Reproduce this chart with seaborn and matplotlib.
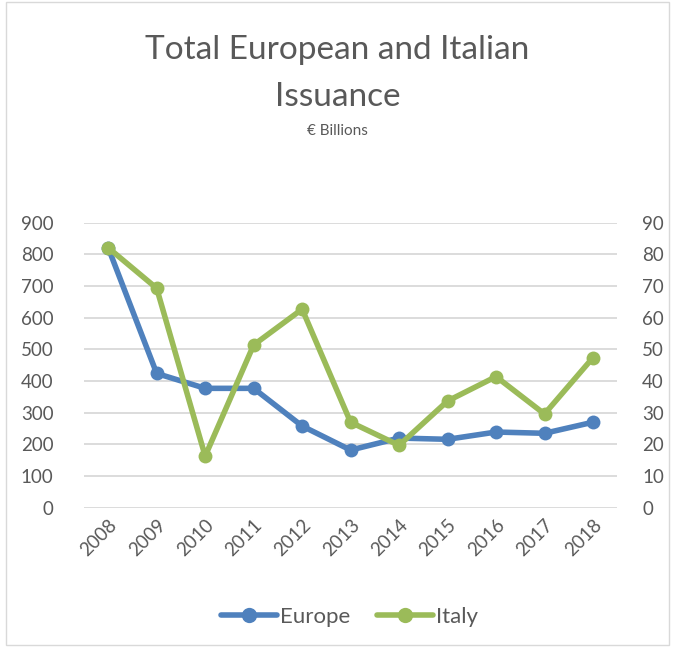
import matplotlib.pyplot as plt
import numpy as np
import pandas as pd
import seaborn as sns
from matplotlib.lines import Line2D
from matplotlib.patches import Rectangle

sns.set_theme(style="white")
plt.rcParams["font.family"] = ["Lato", "DejaVu Sans"]

# values
years = ["2008", "2009", "2010", "2011", "2012", "2013",
         "2014", "2015", "2016", "2017", "2018"]
europe = [821, 424, 377, 377, 258, 182, 220, 216, 239, 235, 270]
italy = [82.1, 69.3, 16.3, 51.4, 62.7, 27.0, 19.7, 33.7, 41.4, 29.6, 47.4]

blue = "#4F81BD"
green = "#9BBB59"
grey = "#595959"

df = pd.DataFrame({"year": years, "pos": np.arange(len(years)),
                   "Europe": europe, "Italy": italy})

fig = plt.figure(figsize=(6.75, 6.53), dpi=100)
ax = fig.add_axes([0.1244, 0.2225, 0.790, 0.4364])
ax2 = ax.twinx()

# Italy sits on the secondary axis and is drawn over Europe
sns.lineplot(data=df, x="pos", y="Europe", ax=ax, color=blue, lw=4,
             marker="o", markersize=10, markeredgewidth=0, zorder=3)
sns.lineplot(data=df, x="pos", y="Italy", ax=ax2, color=green, lw=4,
             marker="o", markersize=10, markeredgewidth=0, zorder=3)

ax.set_ylim(0, 900)
ax2.set_ylim(0, 90)
ax.set_yticks(range(0, 901, 100))
ax2.set_yticks(range(0, 91, 10))
ax.set_xlim(-0.5, len(years) - 0.5)
ax.set_xticks(df["pos"])
ax.set_xticklabels(years, rotation=45, ha="right", rotation_mode="anchor")

ax.grid(axis="y", color="#D9D9D9", lw=1.3)
ax.set_axisbelow(True)
for a in (ax, ax2):
    for s in a.spines.values():
        s.set_visible(False)
    a.set_xlabel("")
    a.set_ylabel("")
    a.tick_params(length=0, labelsize=13.5, labelcolor=grey)
ax.tick_params(axis="y", pad=22)
ax.tick_params(axis="x", pad=6)
ax2.tick_params(axis="y", pad=18)

fig.text(0.5, 0.923, "Total European and Italian", ha="center",
         va="center", fontsize=24, color=grey)
fig.text(0.5, 0.851, "Issuance", ha="center", va="center",
         fontsize=24, color=grey)
fig.text(0.5, 0.799, "€ Billions", ha="center", va="center",
         fontsize=11, color=grey)

handles = [Line2D([], [], color=blue, lw=4, marker="o", markersize=11,
                  markeredgewidth=0),
           Line2D([], [], color=green, lw=4, marker="o", markersize=11,
                  markeredgewidth=0)]
fig.legend(handles, ["Europe", "Italy"], loc="center",
           bbox_to_anchor=(0.518, 0.055), ncol=2, frameon=False,
           fontsize=16, labelcolor=grey, handlelength=2.5,
           handletextpad=0.15, columnspacing=1.2)

fig.patches.append(Rectangle((0.009, 0.012), 0.982, 0.985,
                             transform=fig.transFigure, fill=False,
                             edgecolor="#D9D9D9", lw=1))

fig.savefig("out.png", dpi=100)
